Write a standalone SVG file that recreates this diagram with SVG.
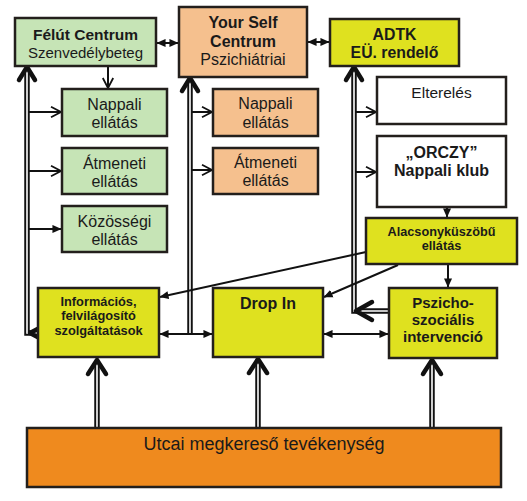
<svg xmlns="http://www.w3.org/2000/svg" width="527" height="501" viewBox="0 0 527 501">
<style>
.box{stroke:#231f1c;stroke-width:2.5}
.g{fill:#c6e4b6}.p{fill:#f5c08e}.y{fill:#dfe11f}.w{fill:#ffffff}.o{fill:#ef8a1e}
text{font-family:"Liberation Sans",Arial,sans-serif;fill:#1a1a1a;text-anchor:middle}
.b{font-weight:bold}
.thin{fill:none;stroke:#111;stroke-width:2}
.dblo{fill:none;stroke:#111;stroke-width:5.5}
.dbli{fill:none;stroke:#fff;stroke-width:1.6}
.chev{fill:none;stroke:#111;stroke-width:4.5;stroke-linecap:round;stroke-linejoin:round}
</style>
<defs>
<marker id="tri" viewBox="0 0 10 10" refX="9.5" refY="5" markerWidth="9" markerHeight="9" markerUnits="userSpaceOnUse" orient="auto-start-reverse"><path d="M0,0.5 L10,5 L0,9.5 z" fill="#111"/></marker>
<marker id="open" viewBox="0 0 12 12" refX="11" refY="6" markerWidth="12" markerHeight="12" markerUnits="userSpaceOnUse" orient="auto"><path d="M1,0.8 L11,6 L1,11.2" fill="none" stroke="#111" stroke-width="1.8"/></marker>
</defs>
<rect width="527" height="501" fill="#fff"/>

<g id="connectors">
<!-- double lines -->
<path class="dblo" d="M38,333 H27 V70"/>
<path class="dbli" d="M38,333 H27 V70"/>
<path class="dblo" d="M190,334 V80"/>
<path class="dbli" d="M190,334 V80"/>
<path class="dblo" d="M389,311 H354 V70"/>
<path class="dbli" d="M389,311 H354 V70"/>
<path class="dblo" d="M97,428 V362"/>
<path class="dbli" d="M97,428 V362"/>
<path class="dblo" d="M258,428 V361"/>
<path class="dbli" d="M258,428 V361"/>
<path class="dblo" d="M432,428 V362"/>
<path class="dbli" d="M432,428 V362"/>
<!-- chevrons -->
<path class="chev" d="M19,80 L27,67 L35,80"/>
<path class="chev" d="M182,91 L190,78 L198,91"/>
<path class="chev" d="M346,80 L354,67 L362,80"/>
<path class="chev" d="M47,324 L30,333 L47,342"/>
<path class="chev" d="M372,302 L356,311 L372,320"/>
<path class="chev" d="M88,374 L97,360 L106,374"/>
<path class="chev" d="M249,373 L258,359 L267,373"/>
<path class="chev" d="M423,374 L432,360 L441,374"/>
<!-- thin arrows -->
<path class="thin" d="M157,43 H178" marker-start="url(#tri)" marker-end="url(#tri)"/>
<path class="thin" d="M308,42 H329" marker-start="url(#tri)" marker-end="url(#tri)"/>
<path class="thin" d="M108,67 V88" marker-end="url(#open)"/>
<path class="thin" d="M28,112 H61" marker-end="url(#open)"/>
<path class="thin" d="M28,171 H61" marker-end="url(#open)"/>
<path class="thin" d="M28,229 H61" marker-end="url(#tri)"/>
<path class="thin" d="M191,112 H212" marker-end="url(#open)"/>
<path class="thin" d="M191,170 H212" marker-end="url(#open)"/>
<path class="thin" d="M355,112 H376" marker-end="url(#open)"/>
<path class="thin" d="M355,172 H376" marker-end="url(#open)"/>
<path class="thin" d="M447,208 V217" marker-end="url(#tri)"/>
<path class="thin" d="M448,265 V287" marker-end="url(#tri)"/>
<path class="thin" d="M366,252 L160,297" marker-end="url(#tri)"/>
<path class="thin" d="M398,265 L324,297" marker-end="url(#tri)"/>
<path class="thin" d="M160,334 H212" marker-start="url(#tri)" marker-end="url(#tri)"/>
<path class="thin" d="M324,334 H388" marker-start="url(#tri)" marker-end="url(#tri)"/>
</g>

<g id="felut"><rect class="box g" x="15" y="18" width="141" height="48"/>
<text x="85.5" y="39.5" font-size="15.5" class="b">Félút Centrum</text>
<text x="85.5" y="57.5" font-size="15">Szenvedélybeteg</text></g>

<g id="yourself"><rect class="box p" x="179" y="7" width="128" height="70"/>
<text x="243" y="27.5" font-size="16" class="b">Your Self</text>
<text x="243" y="46.5" font-size="16" class="b">Centrum</text>
<text x="243" y="64.5" font-size="16">Pszichiátriai</text></g>

<g id="adtk"><rect class="box y" x="330" y="19" width="129" height="47"/>
<text x="394.5" y="39.5" font-size="15.8" class="b">ADTK</text>
<text x="394.5" y="57.5" font-size="15.8" class="b">EÜ. rendelő</text></g>

<g id="g-nappali"><rect class="box g" x="62" y="89" width="105" height="47"/>
<text x="114.5" y="109.5" font-size="16">Nappali</text>
<text x="114.5" y="127.5" font-size="16">ellátás</text></g>

<g id="g-atmeneti"><rect class="box g" x="62" y="148" width="105" height="46"/>
<text x="114.5" y="168.5" font-size="16">Átmeneti</text>
<text x="114.5" y="186.5" font-size="16">ellátás</text></g>

<g id="g-kozossegi"><rect class="box g" x="62" y="206" width="105" height="46"/>
<text x="114.5" y="226.5" font-size="16">Közösségi</text>
<text x="114.5" y="244.5" font-size="16">ellátás</text></g>

<g id="p-nappali"><rect class="box p" x="213" y="89" width="105" height="47"/>
<text x="265.5" y="109" font-size="16">Nappali</text>
<text x="265.5" y="127.5" font-size="16">ellátás</text></g>

<g id="p-atmeneti"><rect class="box p" x="213" y="148" width="105" height="46"/>
<text x="265.5" y="167.5" font-size="16">Átmeneti</text>
<text x="265.5" y="185.5" font-size="16">ellátás</text></g>

<g id="elterelés"><rect class="box w" x="377" y="77" width="129" height="47"/>
<text x="441.5" y="97.5" font-size="15.5">Elterelés</text></g>

<g id="orczy"><rect class="box w" x="377" y="136" width="129" height="71"/>
<text x="441.5" y="157.5" font-size="16" class="b">„ORCZY”</text>
<text x="441.5" y="175.5" font-size="16" class="b">Nappali klub</text></g>

<g id="alacsony"><rect class="box y" x="366" y="218" width="151" height="46"/>
<text x="441.5" y="235.5" font-size="12.7" class="b">Alacsonyküszöbű</text>
<text x="441.5" y="249.5" font-size="12.7" class="b">ellátás</text></g>

<g id="info"><rect class="box y" x="38" y="288" width="121" height="69"/>
<text x="98.5" y="305.5" font-size="12.8" class="b">Információs,</text>
<text x="98.5" y="319.5" font-size="12.8" class="b">felvilágosító</text>
<text x="98.5" y="334.5" font-size="12.8" class="b">szolgáltatások</text></g>

<g id="dropin"><rect class="box y" x="213" y="288" width="110" height="69"/>
<text x="268" y="308.5" font-size="16" class="b">Drop In</text></g>

<g id="pszicho"><rect class="box y" x="389" y="288" width="108" height="70"/>
<text x="443" y="308" font-size="15" class="b">Pszicho-</text>
<text x="443" y="325" font-size="15" class="b">szociális</text>
<text x="443" y="342" font-size="15" class="b">intervenció</text></g>

<g id="utcai"><rect class="box o" x="27" y="428" width="474" height="59"/>
<text x="264" y="450" font-size="18">Utcai megkereső tevékenység</text></g>
</svg>
